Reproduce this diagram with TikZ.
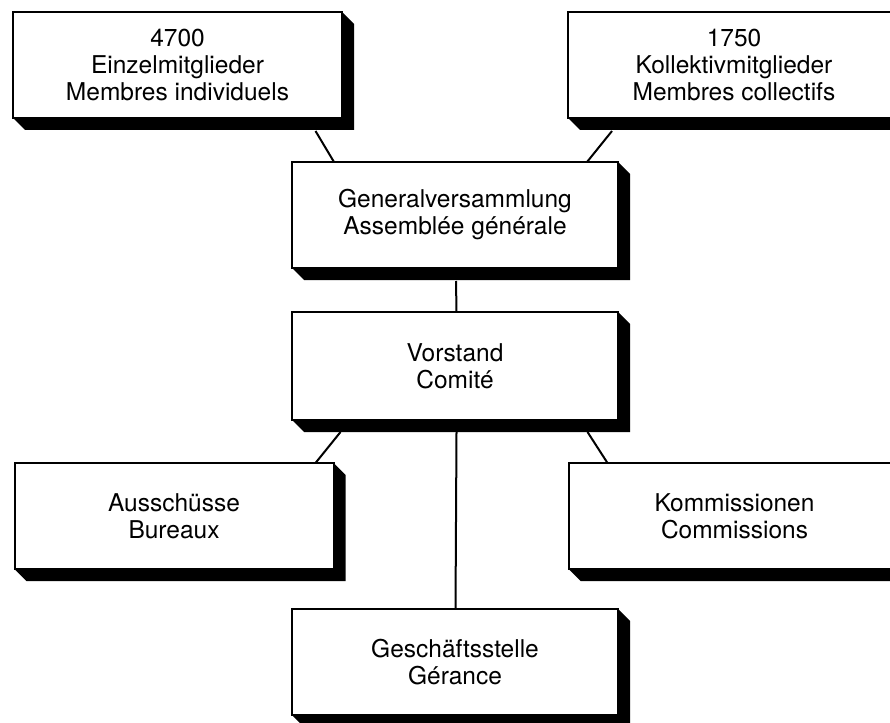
\documentclass[tikz,border=0pt]{standalone}
\usepackage{fontspec}
\setmainfont{TeX Gyre Heros}
\usetikzlibrary{positioning, backgrounds, calc}

\begin{document}
\begin{tikzpicture}[x=1pt, y=-1pt, node distance=150pt]

	\tikzstyle{panel} = [rectangle, draw, line width=2pt, fill=white, outer sep=0pt, align=center, minimum width=326pt, minimum height=106pt, font=\fontsize{24.5}{27}\selectfont]
	\tikzstyle{link} = [draw, line width=2pt]

	\clip (0,0) rectangle (890,722);

	\node [panel] (ag) at (455,215) {Generalversammlung\\Assembl\'ee g\'en\'erale};
	\node [panel, minimum width=329pt, above of=ag, xshift=-277.5pt] (mi) {4700\\Einzelmitglieder\\Membres individuels};
	\node [panel, minimum width=332pt, above of=ag, xshift=279pt] (mc) {1750\\Kollektivmitglieder\\Membres collectifs};
	\node [panel, minimum height=108pt, below of=ag, node distance=151pt] (co) {Vorstand\\Comit\'e};
	\node [panel, minimum width=319pt, below of=co, xshift=-281pt] (bu) {Ausschüsse\\Bureaux};
	\node [panel, minimum width=332pt, below of=co, xshift=279.5pt] (cm) {Kommissionen\\Commissions};
	\node [panel, below of=co, node distance=296pt] (ge) {Geschäftsstelle\\G\'erance};

	% extrusion, right and bottom
	\begin{scope}[on background layer]
		\foreach \n in {mi,mc,ag,co,bu,cm,ge}
			\fill (\n.north east) -- ++(12,12) -- ($(\n.south east)+(12,12)$) -- ($(\n.south west)+(12,12)$) -- (\n.south west) -- cycle;
	\end{scope}

	\path [link] ($(mi.south)+(138,13)$) -- ($(ag.north)+(-121,0)$);
	\path [link] ($(mc.south)+(-122,13)$) -- ($(ag.north)+(132,0)$);
	\path [link] ($(ag.south)+(1,13)$) -- ($(co.north)+(1.5,0)$);
	\path [link] ($(co.south)+(-114.5,12)$) -- ($(bu.north)+(141.5,0)$);
	\path [link] ($(co.south)+(132.5,12)$) -- ($(cm.north)+(-127,0)$);
	\path [link] ($(co.south)+(1.5,12)$) -- ($(ge.north)+(0.5,0)$);
\end{tikzpicture}
\end{document}
